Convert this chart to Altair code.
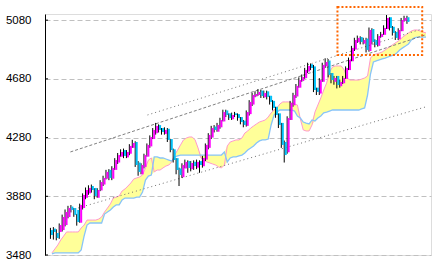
import altair as alt
import pandas as pd

# ---- price candles (index = trading period) ----
opens = [3650,3660,3630,3637,3650,3684,3739,3810,3800,3787,
         3700,3800,3870,3900,3950,3937,3870,3920,3960,4000,
         4060,4000,4060,4110,4150,4195,4145,4170,4210,4250,
         4110,4030,4080,4150,4220,4270,4310,4365,4345,4305,
         4340,4270,4200,4140,4070,4010,4070,4120,4065,4115,
         4075,4120,4085,4130,4210,4280,4355,4320,4350,4390,
         4465,4445,4405,4445,4440,4420,4395,4360,4440,4505,
         4560,4570,4600,4555,4595,4565,4530,4490,4445,4380,
         4250,4180,4400,4500,4560,4620,4665,4685,4730,4780,
         4765,4620,4580,4660,4765,4805,4720,4660,4700,4630,
         4650,4680,4740,4800,4880,4930,4965,4920,4955,4870,
         5020,4945,4905,4965,4980,5020,5100,5035,5000,4950,
         5005,5075,5100]
highs = [3665,3670,3655,3695,3755,3790,3815,3820,3800,3760,
         3830,3900,3940,3955,3960,3935,3935,3990,4020,4060,
         4065,4085,4140,4175,4200,4205,4195,4235,4265,4255,
         4120,4105,4170,4240,4295,4345,4380,4370,4345,4350,
         4345,4270,4205,4140,4075,4105,4130,4125,4120,4125,
         4130,4125,4155,4240,4310,4360,4365,4380,4415,4470,
         4470,4445,4450,4455,4445,4420,4400,4465,4535,4585,
         4595,4610,4605,4600,4600,4565,4535,4490,4445,4380,
         4260,4425,4530,4585,4645,4690,4710,4755,4790,4785,
         4775,4620,4685,4790,4820,4815,4720,4700,4700,4675,
         4700,4765,4825,4905,4960,4975,4970,4960,4960,5030,
         5025,4950,4985,5000,5045,5115,5100,5040,5005,5025,
         5095,5110,5110]
lows = [3590,3585,3580,3590,3640,3675,3730,3770,3740,3680,
        3700,3790,3860,3890,3905,3860,3870,3915,3950,3995,
        3990,3990,4060,4100,4150,4140,4140,4160,4210,4080,
        4020,4030,4070,4150,4210,4270,4300,4315,4300,4300,
        4250,4180,4110,4030,3950,4005,4070,4040,4050,4060,
        4065,4040,4075,4120,4200,4270,4315,4320,4340,4390,
        4420,4400,4400,4420,4395,4370,4350,4355,4430,4495,
        4555,4565,4550,4550,4540,4505,4465,4415,4345,4210,
        4110,4170,4400,4490,4550,4620,4660,4680,4720,4740,
        4590,4570,4570,4660,4755,4690,4650,4640,4615,4620,
        4645,4680,4740,4800,4870,4925,4915,4915,4860,4865,
        4915,4895,4900,4960,4980,5020,5010,4975,4945,4945,
        5005,5070,5055]
closes = [3616,3637,3596,3684,3739,3773,3800,3787,3753,3705,
          3821,3889,3923,3937,3923,3882,3923,3977,4005,4046,
          4005,4073,4127,4161,4182,4155,4182,4223,4243,4093,
          4046,4093,4161,4230,4284,4332,4359,4332,4318,4332,
          4264,4195,4127,4059,4025,4093,4114,4073,4107,4086,
          4114,4093,4141,4230,4298,4345,4332,4366,4400,4454,
          4434,4413,4434,4434,4413,4386,4366,4454,4523,4570,
          4577,4591,4563,4584,4557,4523,4482,4434,4366,4230,
          4161,4413,4516,4570,4632,4672,4693,4741,4768,4754,
          4604,4591,4672,4775,4795,4707,4672,4686,4638,4659,
          4686,4754,4809,4891,4945,4959,4931,4945,4877,5013,
          4931,4911,4972,4986,5027,5095,5027,4993,4959,5013,
          5081,5095,5068]

# ---- cloud (upper / lower edges), extends beyond last candle ----
cloud_top = [3494,3521,3548,3582,3609,3637,3637,3637,3637,3637,
             3664,3684,3718,3718,3718,3718,3725,3739,3773,3800,
             3828,3868,3875,3882,3916,3930,3950,3971,3998,4005,
             4012,4025,4073,4127,4141,4148,4148,4141,4141,4134,
             4127,4120,4161,4195,4230,4264,4277,4284,4284,4264,
             4209,4161,4161,4161,4161,4161,4161,4161,4161,4182,
             4223,4250,4257,4264,4264,4277,4311,4325,4345,4359,
             4373,4386,4393,4400,4420,4448,4468,4482,4509,4523,
             4523,4523,4516,4509,4502,4413,4386,4379,4373,4400,
             4454,4502,4550,4604,4652,4727,4761,4768,4768,4768,
             4741,4686,4672,4672,4672,4672,4679,4686,4700,4822,
             4843,4850,4856,4863,4877,4891,4904,4918,4931,4945,
             4965,4979,4993,5006,5013,5013,5006,4999,4993]
cloud_bottom = [3487,3494,3494,3494,3494,3494,3494,3494,3494,3494,
                3514,3609,3684,3698,3698,3698,3698,3698,3759,3773,
                3787,3807,3821,3821,3855,3868,3868,3868,3868,3875,
                3875,3909,3991,4018,4025,4046,4059,4059,4073,4086,
                4093,4114,4148,4155,4161,4161,4161,4161,4161,4161,
                4161,4141,4127,4114,4107,4100,4093,4080,4073,4093,
                4114,4141,4148,4148,4155,4161,4175,4195,4209,4223,
                4243,4257,4264,4264,4270,4366,4434,4454,4468,4468,
                4468,4468,4468,4461,4427,4407,4332,4325,4325,4366,
                4393,4413,4427,4448,4454,4461,4468,4468,4468,4468,
                4468,4468,4468,4468,4468,4468,4475,4482,4570,4713,
                4795,4802,4809,4816,4822,4829,4836,4843,4856,4877,
                4891,4904,4918,4945,4959,4965,4965,4965,4965]
# index ranges where the pink span lies below the blue span
twists = [(35, 41), (51, 59), (85, 89)]

# ---- trend channel lines ----
trend_name = ["upper", "middle", "lower"]
trend_i0 = [32.7, 6.3, 7.7]
trend_i1 = [127.7, 127.7, 127.7]
trend_v0 = [4434, 4182, 3793]
trend_v1 = [5027, 4979, 4488]

# ---- highlight box ----
box_i = [97.7, 126.7]
box_v = [4843, 5170]

tick_values = [3480, 3880, 4280, 4680, 5080]

# ---------------------------------------------------------------
candles = pd.DataFrame({"i": list(range(len(closes))), "open": opens,
                        "high": highs, "low": lows, "close": closes})

span_a, span_b = [], []
for k, (t, b) in enumerate(zip(cloud_top, cloud_bottom)):
    tw = any(s <= k <= e for s, e in twists)
    span_a.append(b if tw else t)
    span_b.append(t if tw else b)
cloud = pd.DataFrame({"i": list(range(len(cloud_top))), "top": cloud_top,
                      "bottom": cloud_bottom, "a": span_a, "b": span_b})
trends = pd.DataFrame({"name": trend_name, "i0": trend_i0, "i1": trend_i1,
                       "v0": trend_v0, "v1": trend_v1})
box = pd.DataFrame({"i0": [box_i[0]], "i1": [box_i[1]],
                    "v0": [box_v[0]], "v1": [box_v[1]]})
ticks = pd.DataFrame({"v": tick_values})

xs = alt.Scale(domain=[-0.667, 128], nice=False, zero=False)
ys = alt.Scale(domain=[3480, 5122], nice=False, zero=False)
yax = alt.Axis(values=tick_values, format="d", grid=True, gridDash=[5, 3],
               gridColor="#C0C0C0", ticks=False, domain=True, domainColor="black",
               labelPadding=14, labelFont="Liberation Sans", labelFontSize=11.5,
               labelColor="black", title=None)

def X(f):
    return alt.X(f, type="quantitative", scale=xs, axis=None)

def Y(f):
    return alt.Y(f, type="quantitative", scale=ys, axis=yax)

area = alt.Chart(cloud).mark_area(color="#FFFF99", opacity=1).encode(
    x=X("i"), y=Y("top"), y2="bottom")
line_a = alt.Chart(cloud).mark_line(color="#FF99CC", strokeWidth=1).encode(
    x=X("i"), y=Y("a"))
line_b = alt.Chart(cloud).mark_line(color="#88C4F8", strokeWidth=1.3).encode(
    x=X("i"), y=Y("b"))

dotted = alt.Chart(trends).transform_filter("datum.name != 'middle'").mark_rule(
    color="#707070", strokeDash=[1, 3], strokeWidth=1).encode(
    x=X("i0"), x2="i1", y=Y("v0"), y2="v1")
dashed = alt.Chart(trends).transform_filter("datum.name == 'middle'").mark_rule(
    color="#808080", strokeDash=[3, 2], strokeWidth=1).encode(
    x=X("i0"), x2="i1", y=Y("v0"), y2="v1")

wick = alt.Chart(candles).mark_rule(color="black", strokeWidth=1, xOffset=-1.5).encode(
    x=X("i"), y=Y("low"), y2="high")
body = alt.Chart(candles).mark_bar(width=2, opacity=1).encode(
    x=X("i"), y=Y("open"), y2="close",
    color=alt.condition("datum.close >= datum.open", alt.value("#FF00FF"), alt.value("#00C0F8")))

rect = alt.Chart(box).mark_rect(filled=False, stroke="#FF6600", strokeWidth=2,
                                strokeDash=[2, 2]).encode(
    x=X("i0"), x2="i1", y=Y("v0"), y2="v1")

tickmarks = alt.Chart(ticks).mark_rule(color="black").encode(
    y=Y("v"), x=alt.value(0), x2=alt.value(3))

chart = alt.layer(area, line_a, line_b, dotted, dashed, wick, body, rect, tickmarks).properties(
    width=386, height=241,
    padding={"left": 45, "top": 14, "right": 1, "bottom": 14},
    autosize=alt.AutoSizeParams(type="none"),
).configure_view(stroke=None).configure(background="white")

chart.save("out.html", embed_options={"renderer": "svg", "actions": False})
